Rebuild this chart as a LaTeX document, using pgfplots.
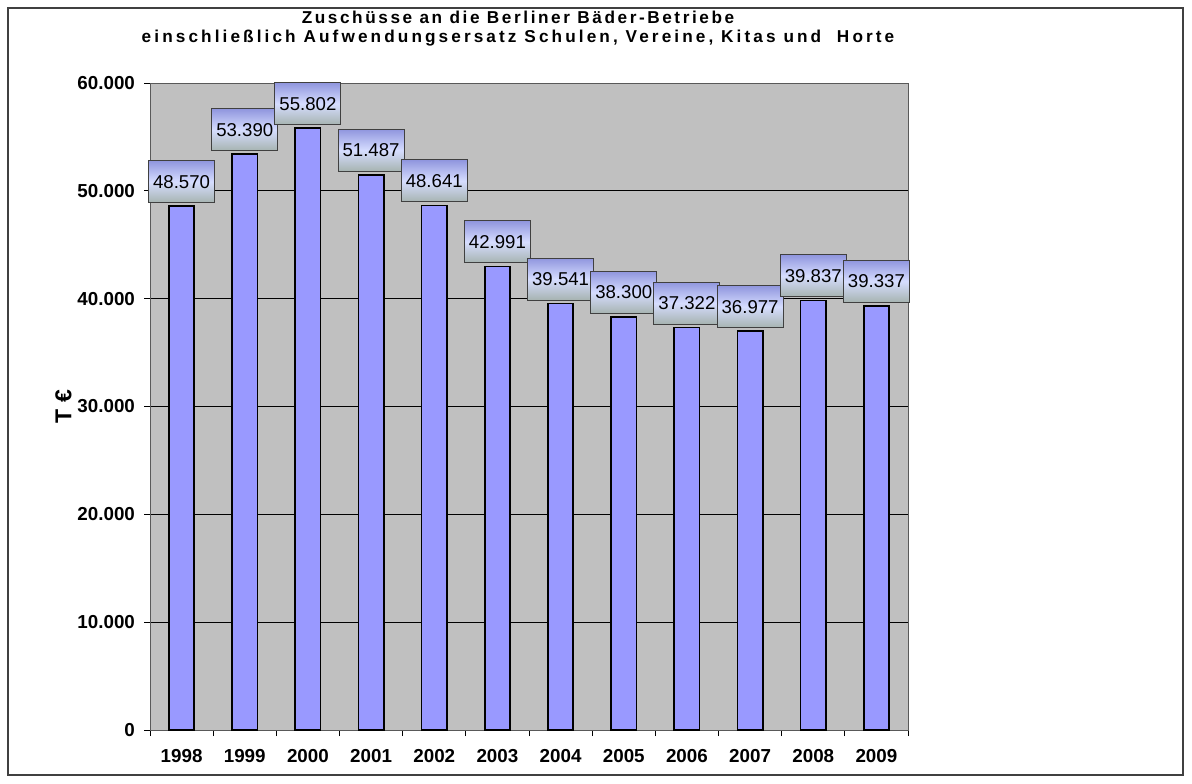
\documentclass[border=0pt]{standalone}
\usepackage{fontspec}
\setmainfont{Liberation Sans}
\usepackage{pgfplots}
\pgfplotsset{compat=1.18}
\definecolor{bgray}{HTML}{C0C0C0}
\definecolor{barc}{HTML}{9999FF}
\definecolor{boxtop}{HTML}{9096DE}
\definecolor{boxmid}{HTML}{D6DDFF}
\definecolor{boxbot}{HTML}{A6B3B0}
\definecolor{frame}{HTML}{404040}
\begin{document}
\begin{tikzpicture}
\path[use as bounding box] (0pt,0pt) rectangle (596pt,391.5pt);
\draw[frame, line width=0.9pt] (4pt,4pt) rectangle (591.5pt,387.5pt);
\begin{axis}[
  at={(75pt,26.5pt)}, anchor=south west,
  width=379pt, height=323.5pt, scale only axis,
  clip=false,
  axis background/.style={fill=bgray},
  axis line style={draw=gray!70!black},
  ymin=0, ymax=60000, ytick={0,10000,...,60000},
  scaled y ticks=false,
  yticklabel style={xshift=-1pt, /pgf/number format/.cd, fixed, 1000 sep={.}},
  /pgf/number format/assume math mode=true,
  ymajorgrids, major grid style={black, line width=0.5pt},
  xmin=-0.5, xmax=11.5,
  xtick={0,...,11},
  xticklabels={1998,1999,2000,2001,2002,2003,2004,2005,2006,2007,2008,2009},
  minor xtick={-0.5,0.5,...,11.5},
  major x tick style={draw=none},
  minor x tick style={draw=black, line width=0.5pt},
  y tick style={draw=black, line width=0.5pt},
  tick align=outside, xtick pos=bottom, ytick pos=left,
  major tick length=3pt, minor tick length=3pt,
  ticklabel style={font=\bfseries\fontsize{9.4}{11}\selectfont},
  xticklabel style={yshift=-3pt},
  ylabel={T €},
  ylabel style={font=\bfseries\fontsize{11.5}{12}\selectfont, yshift=-4pt},
  bar width=0.4,
  nodes near coords={\pgfmathprintnumber[fixed,1000 sep={.}]{\pgfplotspointmeta}},
  every node near coord/.append style={
    font=\fontsize{9.3}{11}\selectfont,
    draw=frame, line width=0.5pt,
    top color=boxtop, bottom color=boxbot, middle color=boxmid,
    minimum width=33pt, minimum height=21pt, inner sep=1pt,
    anchor=south, yshift=1.5pt},
]
\addplot[ybar, fill=barc, draw=black, line width=0.85pt] coordinates {
(0,48570) (1,53390) (2,55802) (3,51487) (4,48641) (5,42991)
(6,39541) (7,38300) (8,37322) (9,36977) (10,39837) (11,39337)
};
\end{axis}
\node[font=\bfseries\fontsize{8.6}{10}\selectfont\addfontfeature{LetterSpace=15}] at (259pt,383pt)
  {Zuschüsse an die Berliner Bäder-Betriebe};
\node[font=\bfseries\fontsize{8.6}{10}\selectfont\addfontfeature{LetterSpace=18}] at (259pt,372.5pt)
  {einschließlich Aufwendungsersatz Schulen, Vereine, Kitas und\ \ Horte};
\end{tikzpicture}
\end{document}
